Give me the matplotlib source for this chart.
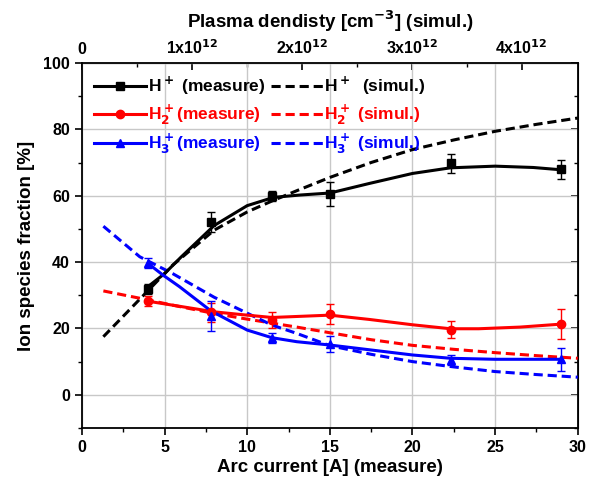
import matplotlib
matplotlib.use("Agg")
import matplotlib.pyplot as plt
from matplotlib.lines import Line2D

plt.rcParams['font.family'] = ['Liberation Sans', 'DejaVu Sans']
plt.rcParams['font.weight'] = 'bold'
plt.rcParams['mathtext.default'] = 'bf'

# measured points
arc_current = [4.0, 7.8, 11.5, 15.0, 22.3, 29.0]
h1_meas = [32.0, 52.0, 60.0, 60.5, 69.7, 67.9]
h1_err = [1.5, 3.0, 1.5, 3.5, 3.0, 3.0]
h2_meas = [28.4, 24.8, 22.6, 24.3, 19.6, 21.4]
h2_err = [1.5, 3.0, 2.5, 3.0, 2.5, 4.5]
h3_meas = [39.6, 23.8, 17.2, 15.3, 10.4, 10.7]
h3_err = [1.5, 4.5, 1.5, 2.5, 1.5, 3.5]

h1_fit_x = [4.0, 5.0, 6.0, 8.0, 10.0, 11.6, 13.2, 15.0, 17.4, 20.0, 22.3, 25.0, 27.3, 29.0]
h1_fit_y = [32.6, 36.5, 41.5, 51.0, 57.0, 59.5, 60.2, 60.8, 63.7, 66.7, 68.4, 68.9, 68.5, 67.8]
h2_fit_x = [4.0, 6.0, 8.0, 10.0, 11.5, 13.0, 15.0, 17.4, 20.0, 22.3, 24.0, 26.5, 29.0]
h2_fit_y = [28.2, 26.6, 25.0, 24.0, 23.3, 23.6, 24.0, 22.7, 21.1, 19.9, 19.9, 20.4, 21.3]
h3_fit_x = [4.0, 4.9, 5.9, 7.8, 10.0, 11.5, 13.0, 15.0, 17.5, 20.0, 22.3, 25.0, 29.0]
h3_fit_y = [39.6, 36.1, 32.6, 25.3, 19.5, 17.2, 16.0, 15.0, 13.5, 12.0, 11.0, 10.7, 10.7]

# simulation curves
sim_x = [1.3, 3.5, 5.5, 8.0, 10.0, 11.5, 13.0, 15.0, 17.5, 20.0, 22.5, 25.0, 27.5, 30.0]
h1_sim = [17.5, 28.8, 39.1, 49.6, 55.1, 58.4, 61.5, 65.5, 70.0, 73.9, 76.8, 79.4, 81.5, 83.4]
h2_sim = [31.3, 29.1, 27.0, 24.5, 22.8, 21.6, 20.4, 18.7, 16.6, 14.9, 13.7, 12.7, 11.8, 11.0]
h3_sim = [50.8, 41.6, 36.5, 29.4, 24.6, 21.0, 18.5, 14.8, 12.2, 10.0, 8.4, 7.0, 6.1, 5.3]

amps_per_1e12 = 6.65
density_ticks = [0, 1, 2, 3, 4]
density_labels = ['0', '1x10$^{12}$', '2x10$^{12}$', '3x10$^{12}$', '4x10$^{12}$']

fig = plt.figure(figsize=(5.89, 4.88), dpi=100)
ax = fig.add_axes([0.139, 0.123, 0.842, 0.748])

series = [
    ('black', 's', h1_meas, h1_err, h1_fit_x, h1_fit_y, h1_sim, 'H$^+$ (measure)', 'H$^+$  (simul.)'),
    ('red', 'o', h2_meas, h2_err, h2_fit_x, h2_fit_y, h2_sim, 'H$_2^+$(measure)', 'H$_2^+$ (simul.)'),
    ('blue', '^', h3_meas, h3_err, h3_fit_x, h3_fit_y, h3_sim, 'H$_3^+$(measure)', 'H$_3^+$ (simul.)'),
]

meas_handles = []
sim_handles = []
for color, marker, meas, err, fx, fy, sim, lab_m, lab_s in series:
    ax.plot(sim_x, sim, color=color, lw=2.2, dashes=(3, 1.6), zorder=3)
    ax.plot(fx, fy, color=color, lw=2.2, zorder=4)
    ax.errorbar(arc_current, meas, yerr=err, fmt=marker, color=color, ms=6,
                elinewidth=1, capsize=3, capthick=1, zorder=5)
    meas_handles.append(Line2D([], [], color=color, lw=2.2, marker=marker, ms=6, label=lab_m))
    sim_handles.append(Line2D([], [], color=color, lw=2.2, dashes=(3, 1.6), label=lab_s))

ax.set_xlim(0, 30)
ax.set_ylim(-10, 100)
ax.set_xticks(range(0, 31, 5))
ax.set_xticks([2.5 + 5 * i for i in range(6)], minor=True)
ax.set_yticks(range(0, 101, 20))
ax.set_yticks(range(-10, 101, 20), minor=True)
ax.grid(True, which='major', color='#c8c8c8', lw=1)
ax.set_axisbelow(True)
ax.tick_params(axis='both', which='major', direction='out', length=5, width=1.2, labelsize=11.5)
ax.tick_params(axis='both', which='minor', direction='out', length=3, width=1)
for lbl in ax.get_xticklabels() + ax.get_yticklabels():
    lbl.set_fontweight('bold')
for sp in ax.spines.values():
    sp.set_linewidth(1.3)

ax.set_xlabel('Arc current [A] (measure)', fontsize=13.5, fontweight='bold', labelpad=3)
ax.set_ylabel('Ion species fraction [%]', fontsize=13.5, fontweight='bold', labelpad=6)

# right spine ticks
ry = ax.secondary_yaxis('right')
ry.set_yticks(range(0, 101, 20))
ry.set_yticks(range(-10, 101, 20), minor=True)
ry.tick_params(which='both', direction='in', labelright=False)
ry.tick_params(which='major', length=5, width=1.2)
ry.tick_params(which='minor', length=3, width=1)

# top axis: plasma density
top = ax.secondary_xaxis('top', functions=(lambda a: a / amps_per_1e12, lambda d: d * amps_per_1e12))
top.set_xticks(density_ticks)
top.set_xticklabels(density_labels, fontsize=11.5, fontweight='bold')
top.set_xticks([0.5, 1.5, 2.5, 3.5], minor=True)
top.tick_params(which='both', direction='in')
top.tick_params(which='major', length=5, width=1.2, pad=4)
top.tick_params(which='minor', length=3, width=1)
top.set_xlabel('Plasma dendisty [cm$^{-3}$] (simul.)', fontsize=13.5, fontweight='bold', labelpad=8)

leg = ax.legend(handles=meas_handles + sim_handles, ncol=2, loc='upper left',
                frameon=False, fontsize=12.5, handlelength=3.0, handletextpad=0.1,
                columnspacing=0.3, labelspacing=0.3, borderaxespad=0.3)
for txt, h in zip(leg.get_texts(), meas_handles + sim_handles):
    txt.set_color(h.get_color())
    txt.set_fontweight('bold')

fig.savefig('out.png', dpi=100)
